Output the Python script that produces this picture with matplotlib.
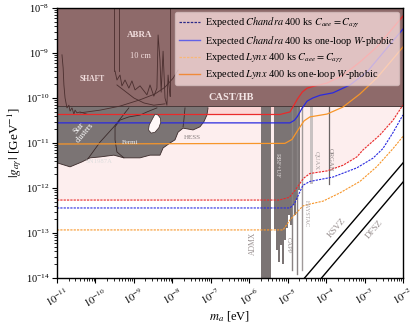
import numpy as np
import matplotlib
matplotlib.use('Agg')
import matplotlib.pyplot as plt
from matplotlib.lines import Line2D

plt.rcParams['font.family'] = 'serif'
plt.rcParams['font.serif'] = ['Liberation Serif', 'DejaVu Serif']
plt.rcParams['mathtext.fontset'] = 'stix'

# ── data (masses in eV, couplings in GeV^-1) ─────────────────────────────────
CAST_G = 6.6e-11

red_m = [1e-11, 6.3e-6, 1.15e-5, 1.4e-5, 1.8e-5, 2.4e-5, 3.2e-5, 4.5e-5, 1.06e-4, 2.75e-4, 7.6e-4, 2.1e-3, 5.5e-3, 1e-2]
red_g = [4.3e-11, 4.3e-11, 4.9e-11, 6.5e-11, 9.5e-11, 1.35e-10, 1.65e-10, 1.8e-10, 2.15e-10, 3.2e-10, 6.3e-10, 1.36e-9, 3.6e-9, 6.6e-9]

blue_m = [1e-11, 1.15e-5, 1.5e-5, 1.8e-5, 2.4e-5, 3.2e-5, 4.5e-5, 7e-5, 1.5e-4, 4.2e-4, 1.16e-3, 3.0e-3, 1e-2]
blue_g = [2.8e-11, 2.8e-11, 3.2e-11, 3.9e-11, 6.0e-11, 8.5e-11, 1.0e-10, 1.15e-10, 1.3e-10, 1.95e-10, 3.8e-10, 1.0e-9, 3.4e-9]

orange_m = [1e-11, 8.5e-6, 1.3e-5, 1.86e-5, 2.67e-5, 3.8e-5, 1.06e-4, 2.75e-4, 7.6e-4, 2.1e-3, 5.5e-3, 1e-2]
orange_g = [9.5e-12, 9.8e-12, 1.2e-11, 1.95e-11, 3.1e-11, 3.8e-11, 4.4e-11, 6.3e-11, 1.23e-10, 2.8e-10, 7.4e-10, 1.36e-9]

red_dash_m = [1e-11, 6e-6, 1.1e-5, 1.5e-5, 2.0e-5, 2.6e-5, 3.8e-5, 1.06e-4, 2.75e-4, 6.3e-4, 9.1e-4, 2.5e-3, 5.5e-3, 1e-2]
red_dash_g = [5.4e-13, 5.4e-13, 6.2e-13, 8.5e-13, 1.2e-12, 1.65e-12, 2.1e-12, 2.4e-12, 3.2e-12, 4.9e-12, 7e-12, 1.5e-11, 3.2e-11, 7e-11]

blue_dash_m = [1e-11, 1.15e-5, 1.5e-5, 1.8e-5, 2.5e-5, 3.8e-5, 1.5e-4, 6.3e-4, 1.66e-3, 3e-3, 5.5e-3, 1e-2]
blue_dash_g = [3.6e-13, 3.6e-13, 4.5e-13, 6.3e-13, 1.15e-12, 1.4e-12, 1.75e-12, 2.8e-12, 4.6e-12, 7.5e-12, 1.7e-11, 4.2e-11]

orange_dash_m = [1e-11, 7.6e-6, 1.15e-5, 1.75e-5, 2.5e-5, 3.8e-5, 8.3e-5, 2.3e-4, 7.6e-4, 2.1e-3, 5.5e-3, 1e-2]
orange_dash_g = [1.17e-13, 1.17e-13, 1.95e-13, 2.9e-13, 4.0e-13, 4.4e-13, 5.1e-13, 7.8e-13, 1.4e-12, 3.0e-12, 7.5e-12, 1.4e-11]

ksvz_m = [2.75e-5, 1e-2]
ksvz_g = [1e-14, 3.6e-12]
dfsz_m = [7.6e-5, 1e-2]
dfsz_g = [1e-14, 1.35e-12]

# astrophysical bounds (log10 m, log10 g): SN1987A / star clusters / Fermi / HESS
astro_lm = [-11.0, -7.07, -7.07, -7.10, -7.18, -7.28, -7.46, -7.72, -7.85, -7.93, -8.06, -8.24,
            -8.32, -8.58, -8.84, -9.26, -9.52, -9.88, -10.14, -10.35, -10.66, -11.0]
astro_lg = [-10.18, -10.18, -10.22, -10.38, -10.53, -10.64, -10.71, -10.67, -10.76, -10.93, -11.0, -11.11,
            -11.27, -11.27, -11.33, -11.33, -11.27, -11.31, -11.33, -11.42, -11.53, -11.44]
hole_lm = [-8.45, -8.37, -8.31, -8.30, -8.35, -8.45, -8.55, -8.62, -8.60, -8.52]
hole_lg = [-10.36, -10.38, -10.45, -10.54, -10.66, -10.76, -10.78, -10.71, -10.60, -10.47]
sn_lm = [-10.22, -9.88, -9.52, -9.13]
sn_lg = [-11.38, -10.98, -10.64, -10.22]
fermi_lm = [-9.26, -9.44, -9.49, -9.49, -9.36, -9.13, -8.84, -8.66, -8.40]
fermi_lg = [-11.33, -11.20, -10.93, -10.64, -10.49, -10.42, -10.38, -10.31, -10.22]
hess_lm = [-7.67, -7.70, -7.72]
hess_lg = [-10.22, -10.50, -10.64]

# SHAFT / ABRA (log10 m, log10 g)
shaft_lm = [-10.87, -10.84, -10.82, -10.79, -10.74, -10.69, -10.66, -10.61, -10.56, -10.53, -10.48, -10.40, -10.22]
shaft_lg = [-9.04, -9.33, -9.71, -10.0, -10.22, -10.16, -10.29, -10.22, -10.36, -10.27, -10.33, -10.31, -10.36]
proj_lm = [-10.40, -9.88, -9.36, -8.84, -8.45, -8.19, -7.98, -7.85]
proj_lg = [-10.33, -10.27, -10.18, -10.04, -9.91, -9.76, -9.56, -9.38]
abra_lm = [-9.49, -9.44, -9.36, -9.31, -9.23, -9.13, -9.05, -8.97, -8.84, -8.74, -8.66, -8.58, -8.48,
           -8.40, -8.37, -8.32, -8.29, -8.24, -8.19, -8.14, -8.11, -8.06]
abra_lg = [-9.40, -9.60, -9.49, -9.73, -9.60, -9.78, -9.62, -9.82, -9.73, -9.84, -9.93, -9.71, -9.96,
           -9.78, -8.60, -9.16, -9.87, -8.96, -10.0, -10.16, -9.49, -9.96]
abra_lo_lm = [-9.44, -9.0, -8.74, -8.48, -8.19]
abra_lo_lg = [-9.71, -10.0, -10.11, -10.16, -10.13]

# haloscopes
admx_m = [2.05e-6, 3.7e-6]
rbf_m = [4.4e-6, 5.0e-6, 5.6e-6, 6.3e-6, 7.1e-6, 8.1e-6, 9.1e-6, 1.02e-5, 1.15e-5, 1.29e-5, 1.48e-5, 1.66e-5, 1.86e-5, 2.1e-5]
rbf_g = [1.2e-13, 4.2e-14, 2.3e-14, 5.4e-14, 2.0e-14, 6.9e-14, 1.3e-13, 2.5e-13, 1.5e-13, 4.2e-13, 2.5e-13, 5.4e-13, 9e-13, 9e-13]
capp_m = [1.3e-5, 1.75e-5]
capp_g = [1.5e-14, 1.2e-14]
haystac_m = 2.35e-5
haystac_g = 1.5e-14
quax_m = [3.8e-5, 4.5e-5]
quax_g = 1.2e-12
organ_m = 1.2e-4
organ_g = 1.2e-12

BROWN = '#8e6a6a'
GRAY = '#7b7474'
RED, BLUE, ORANGE = '#ea2a2a', '#2a2ae0', '#f7962a'
LINE = '#4a2e2e'

fig = plt.figure(figsize=(4.15, 3.25), dpi=100)
ax = fig.add_axes([0.1373, 0.1446, 0.8337, 0.8308])
ax.set_xscale('log'); ax.set_yscale('log')
ax.set_xlim(1e-11, 1e-2); ax.set_ylim(1e-14, 1e-8)

p = lambda a: 10 ** np.asarray(a)

# pink sensitivity regions
ax.fill_between(red_dash_m, red_dash_g, 1e-8, color='#fdeeee', lw=0, zorder=1)
ax.fill_between(red_m, red_g, 1e-8, color='#fcd6d6', lw=0, zorder=1.1)

# astrophysical bounds
ax.fill(p(astro_lm), p(astro_lg), color=GRAY, lw=0, zorder=2)
for lm, lg in [(sn_lm, sn_lg), (fermi_lm, fermi_lg), (hess_lm, hess_lg)]:
    ax.plot(p(lm), p(lg), color='#3a2a2a', lw=0.6, zorder=2.2)
ax.plot(p(astro_lm[2:]), p(astro_lg[2:]), color='#3a2a2a', lw=0.6, zorder=2.2)

# haloscopes
ax.fill_between(admx_m, 1e-14, CAST_G, color=GRAY, lw=0, zorder=2)
ax.fill_between(rbf_m, rbf_g, CAST_G, step='post', color=GRAY, lw=0, zorder=2)
for m, g in zip(capp_m, capp_g):
    ax.plot([m, m], [g, CAST_G], color='#8a8484', lw=1.0, zorder=2)
ax.plot([haystac_m] * 2, [haystac_g, CAST_G], color='#a09a9a', lw=1.0, zorder=2)
ax.fill_between(quax_m, quax_g, CAST_G, color='#c8c2c2', lw=0, zorder=2)
ax.plot([organ_m] * 2, [organ_g, CAST_G], color='#6a6464', lw=0.9, zorder=2)

# CAST / HB
ax.fill_between([1e-11, 1e-2], CAST_G, 1e-8, color=BROWN, lw=0, zorder=3)
ax.axhline(CAST_G, color='#4a3a3a', lw=0.7, zorder=3.1)

# SHAFT / ABRA
ax.plot(p(shaft_lm), p(shaft_lg), color=LINE, lw=0.6, zorder=4)
ax.plot(p(proj_lm), p(proj_lg), color=LINE, lw=0.6, zorder=4)
ax.plot(p(abra_lm), p(abra_lg), color=LINE, lw=0.6, zorder=4)
ax.plot(p(abra_lo_lm), p(abra_lo_lg), color=LINE, lw=0.6, zorder=4)
for lm, lo in [(-9.52, -9.4), (-9.39, -9.4), (-8.06, -9.96)]:
    ax.plot([10 ** lm] * 2, [10 ** lo, 1e-8], color=LINE, lw=0.6, zorder=4)

# expected sensitivities
ax.plot(red_m, red_g, color=RED, lw=0.9, zorder=5)
ax.plot(blue_m, blue_g, color=BLUE, lw=0.9, zorder=5)
ax.plot(orange_m, orange_g, color=ORANGE, lw=0.9, zorder=5)
ax.plot(red_dash_m, red_dash_g, color=RED, lw=0.8, ls=(0, (2, 1)), zorder=5)
ax.plot(blue_dash_m, blue_dash_g, color=BLUE, lw=0.8, ls=(0, (2, 1)), zorder=5)
ax.plot(orange_dash_m, orange_dash_g, color=ORANGE, lw=0.8, ls=(0, (2, 1)), zorder=5)
ax.fill(p(hole_lm), p(hole_lg), facecolor='#fff8f8', edgecolor='#3a2a2a', lw=0.5, zorder=5.1)

ax.plot(ksvz_m, ksvz_g, color='k', lw=1.0, zorder=5)
ax.plot(dfsz_m, dfsz_g, color='k', lw=1.0, zorder=5)

# labels
def lab(lm, lg, s, rot=0, c='#eeeeee', fs=5.5, **kw):
    ax.text(10 ** lm, 10 ** lg, s, rotation=rot, color=c, fontsize=fs,
            ha='center', va='center', zorder=6, **kw)

lab(-8.84, -8.60, 'ABRA', c='#f2dede', fs=6.5, fontweight='bold')
lab(-8.84, -9.07, '10 cm', c='#f2dede', fs=6)
lab(-10.09, -9.58, 'SHAFT', c='#f2dede', fs=5.5, fontweight='bold')
lab(-6.47, -10.0, 'CAST/HB', c='#f4e6e6', fs=7.5, fontweight='bold')
lab(-10.35, -10.71, 'Star\nclusters', rot=50, c='white', fs=5.5, linespacing=0.9)
lab(-9.10, -10.98, 'Fermi', c='#eeeeee', fs=5)
lab(-9.91, -11.40, 'SN1987A', c='#dddddd', fs=4.8)
lab(-7.49, -10.87, 'HESS', c='#888080', fs=5)
lab(-5.90, -13.22, 'ADMX', rot=90, c='#999090', fs=5.5)
lab(-5.28, -11.49, 'RBF+UF', rot=270, c='#e0dada', fs=4.8)
lab(-4.99, -13.27, 'CAPP', rot=270, c='#999090', fs=4.8)
lab(-4.52, -12.56, 'HAYSTAC', rot=270, c='#a8a0a0', fs=4.3)
lab(-4.26, -11.38, 'QUAX', rot=270, c='#a8a0a0', fs=4.8)
lab(-3.90, -11.38, 'ORGAN', rot=270, c='#888080', fs=4.8)
lab(-3.72, -12.89, 'KSVZ', rot=49, c='#999090', fs=6.5)
lab(-2.73, -12.93, 'DFSZ', rot=49, c='#999090', fs=6.5)

# legend
handles = [Line2D([], [], color='#2a2a88', lw=0.9, ls=(0, (2, 1))),
           Line2D([], [], color='#6262e6', lw=1.0),
           Line2D([], [], color='#f8b878', lw=0.9, ls=(0, (2, 1))),
           Line2D([], [], color='#f08a3a', lw=1.0)]
labels = [r'Expected $\it{Chandra}$ 400 ks $C_{aee} = C_{a\gamma\gamma}$',
          r'Expected $\it{Chandra}$ 400 ks one-loop $W$-phobic',
          r'Expected $\it{Lynx}$ 400 ks $C_{aee} = C_{a\gamma\gamma}$',
          r'Expected $\it{Lynx}$ 400 ks one-loop $W$-phobic']
leg = ax.legend(handles, labels, loc='upper right', fontsize=7.4, frameon=True,
                facecolor='#fde0e0', framealpha=0.75, edgecolor='#d8c0c0',
                handlelength=2.0, handletextpad=0.5, labelspacing=0.35,
                borderpad=0.4, borderaxespad=0.4)
leg.set_zorder(10)

# axes styling
ax.set_xticks([10.0 ** k for k in range(-11, -1)])
ax.set_xticklabels([r'$10^{%d}$' % k for k in range(-11, -1)], rotation=30, ha='center')
ax.set_yticks([10.0 ** k for k in range(-14, -7)])
ax.xaxis.set_minor_locator(matplotlib.ticker.LogLocator(base=10, subs=np.arange(2, 10), numticks=20))
ax.yaxis.set_minor_locator(matplotlib.ticker.LogLocator(base=10, subs=np.arange(2, 10), numticks=20))
ax.xaxis.set_minor_formatter(matplotlib.ticker.NullFormatter())
ax.yaxis.set_minor_formatter(matplotlib.ticker.NullFormatter())
ax.tick_params(which='major', labelsize=7.5, length=3.5, width=0.8, direction='out', pad=2)
ax.tick_params(which='minor', length=2, width=0.6, direction='out')
for sp in ax.spines.values():
    sp.set_linewidth(1.0)
    sp.set_zorder(11)
ax.set_xlabel(r'$m_a$ [eV]', fontsize=9, labelpad=0)
ax.set_ylabel(r'$|g_{a\gamma}|$ [GeV$^{-1}$]', fontsize=9.5, labelpad=1)

fig.savefig('out.png', dpi=100)
